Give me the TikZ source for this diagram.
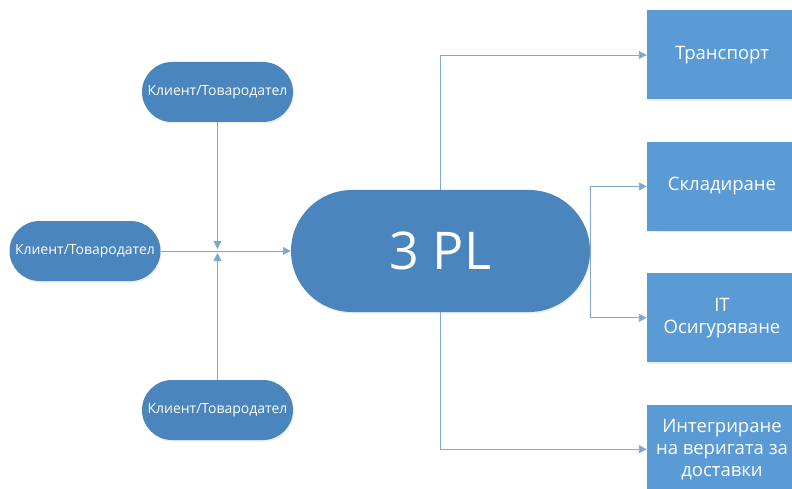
\documentclass[tikz,border=0pt]{standalone}
\usepackage{fontspec}
\setmainfont{Open Sans}
\usetikzlibrary{positioning,arrows.meta,shadows}
\definecolor{hubblue}{HTML}{4A85BD}
\definecolor{boxblue}{HTML}{5B9BD5}
\definecolor{lineblue}{HTML}{7FA8CF}

\begin{document}
\begin{tikzpicture}[x=1pt, y=-1pt,
  every node/.style={text=white, inner sep=0pt},
  shade/.style={drop shadow={opacity=0.15, shadow xshift=1pt, shadow yshift=-1.5pt}},
  client/.style={fill=hubblue, shade, rounded corners=30pt, minimum width=151pt, minimum height=60pt,
    font=\fontsize{14}{16}\selectfont},
  hub/.style={fill=hubblue, shade, rounded corners=61pt, minimum width=299pt, minimum height=122pt,
    font=\fontsize{52}{60}\selectfont},
  task/.style={fill=boxblue, shade, minimum width=150pt, minimum height=89pt, align=center,
    font=\fontsize{18.5}{22}\selectfont},
  link/.style={-{Triangle[length=8pt, width=8pt]}, draw=lineblue, line width=0.9pt}]

\path[use as bounding box, clip] (0,0) rectangle (792,489);

\node[hub] (pl) at (440.5,251) {3 PL};
\node[client] (cltop) at (217.5,92) {Клиент/Товародател};
\node[client] (clleft) at (85,251) {Клиент/Товародател};
\node[client] (clbot) at (217.5,410) {Клиент/Товародател};
\coordinate (jn) at (217.5,251);

\node[task] (transport) at (722,55) {Транспорт};
\node[task, below=42pt of transport] (storage) {Складиране};
\node[task, below=42pt of storage] (itsec) {IT\\Осигуряване};
\node[task, below=42pt of itsec] (chain) {Интегриране\\на веригата за\\доставки};

\draw[link, shorten >=2pt] (cltop) -- (jn);
\draw[link, shorten >=2pt] (clbot) -- (jn);
\draw[link] (clleft) -- (pl);

\draw[link] (pl.north) |- (transport);
\draw[link] (pl.east) |- (storage);
\draw[link] (pl.east) |- (itsec);
\draw[link] (pl.south) |- (chain);
\end{tikzpicture}
\end{document}
